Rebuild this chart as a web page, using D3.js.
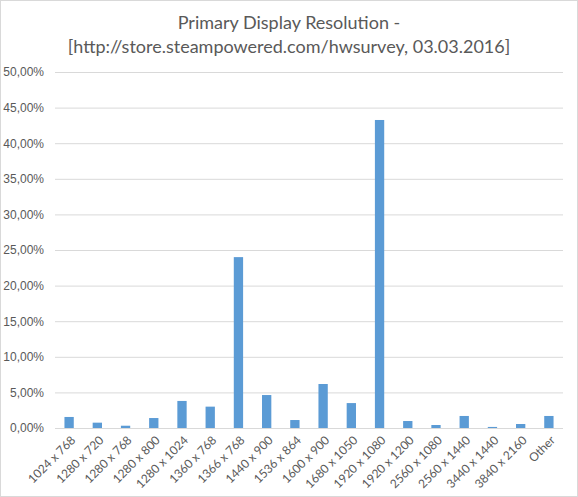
<!DOCTYPE html>
<html>
<head>
<meta charset="utf-8">
<script src="https://cdn.jsdelivr.net/npm/d3@7"></script>
<style>
  body { margin: 0; background: #fff; }
  svg { display: block; font-family: Lato, 'Open Sans', sans-serif; }
</style>
</head>
<body>
<div id="chart"></div>
<script>
const categories = ['1024 x 768', '1280 x 720', '1280 x 768', '1280 x 800', '1280 x 1024',
  '1360 x 768', '1366 x 768', '1440 x 900', '1536 x 864', '1600 x 900', '1680 x 1050',
  '1920 x 1080', '1920 x 1200', '2560 x 1080', '2560 x 1440', '3440 x 1440', '3840 x 2160', 'Other']
const shares = [1.55, 0.75, 0.32, 1.4, 3.8, 3.0, 24.0, 4.63, 1.12, 6.18, 3.5,
  43.26, 0.98, 0.42, 1.69, 0.15, 0.56, 1.69]
const yTicks = [0, 5, 10, 15, 20, 25, 30, 35, 40, 45, 50]
const titleLines = ['Primary Display Resolution -', '[http://store.steampowered.com/hwsurvey, 03.03.2016]']

const width = 578, height = 497
const margin = { top: 72, right: 15, bottom: 69, left: 55 }

const svg = d3.select('#chart').append('svg')
    .attr('width', width)
    .attr('height', height)

svg.append('rect')
    .attr('x', 0.5).attr('y', 0.5)
    .attr('width', width - 1).attr('height', height - 1)
    .attr('fill', '#fff')
    .attr('stroke', '#d9d9d9')

svg.append('g').selectAll('text')
    .data(titleLines)
    .enter().append('text')
    .attr('x', width / 2)
    .attr('y', (d, i) => 29 + i * 24)
    .attr('text-anchor', 'middle')
    .attr('fill', '#595959')
    .attr('font-size', 18)
    .text(d => d)

const x = d3.scaleBand()
    .domain(categories)
    .range([margin.left, width - margin.right])
    .paddingInner(0.67)
    .paddingOuter(0.335)

const y = d3.scaleLinear()
    .domain([0, 50])
    .range([height - margin.bottom, margin.top])

const fmt = v => d3.format('.2f')(v).replace('.', ',') + '%'

// grid + y labels
const yAxis = svg.append('g')
    .attr('transform', 'translate(' + margin.left + ',0)')
    .call(d3.axisLeft(y).tickValues(yTicks).tickSize(-(width - margin.left - margin.right)).tickPadding(11).tickFormat(fmt))
yAxis.select('.domain').remove()
yAxis.selectAll('.tick line').attr('stroke', '#d9d9d9')
yAxis.selectAll('.tick text').attr('fill', '#595959').attr('font-size', 12)

// bars
svg.append('g').selectAll('rect')
    .data(shares)
    .enter().append('rect')
    .attr('x', (d, i) => x(categories[i]))
    .attr('y', d => y(d))
    .attr('width', x.bandwidth())
    .attr('height', d => y(0) - y(d))
    .attr('fill', '#5b9bd5')

// x axis line
svg.append('line')
    .attr('x1', margin.left).attr('x2', width - margin.right)
    .attr('y1', y(0) + 0.5).attr('y2', y(0) + 0.5)
    .attr('stroke', '#d9d9d9')

// x labels
svg.append('g').selectAll('text')
    .data(categories)
    .enter().append('text')
    .attr('transform', d => 'translate(' + (x(d) + x.bandwidth() / 2 + 4) + ',' + (y(0) + 10) + ') rotate(-45)')
    .attr('text-anchor', 'end')
    .attr('dy', '0.35em')
    .attr('fill', '#595959')
    .attr('font-size', 12)
    .text(d => d)
</script>
</body>
</html>
